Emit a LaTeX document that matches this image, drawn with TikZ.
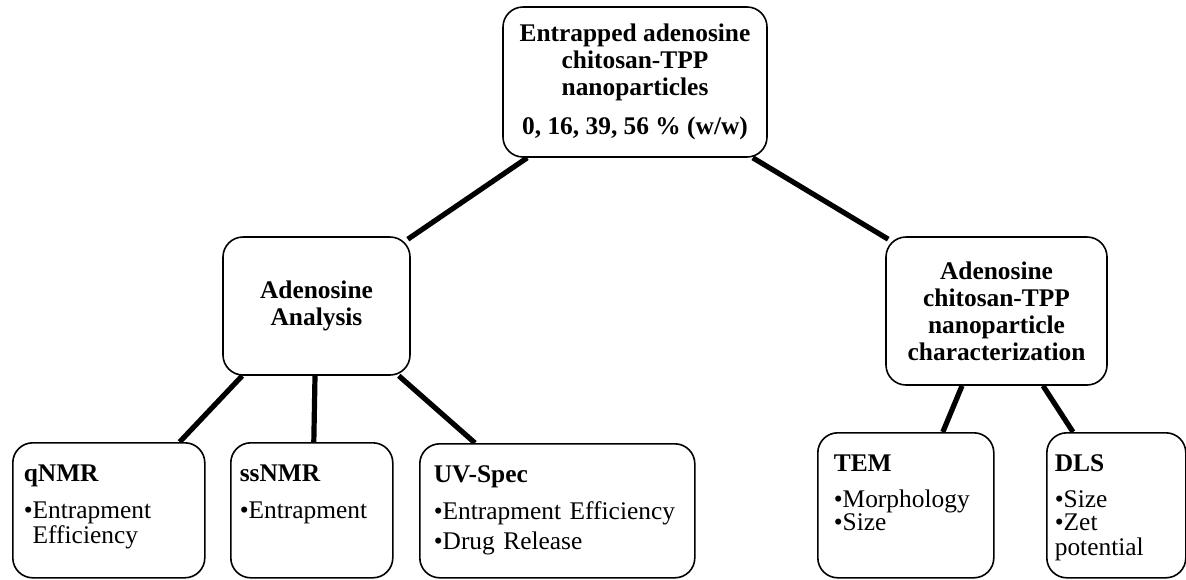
\documentclass[tikz,border=0pt]{standalone}
\usepackage{fontspec}
\setmainfont{Liberation Serif}
\usepackage{tikz}
\usetikzlibrary{backgrounds}

\begin{document}
\begin{tikzpicture}[x=0.5pt,y=-0.5pt,
  hub/.style={draw,line width=0.8pt,rounded corners=10pt,fill=white,align=center,
    font=\fontsize{12.7}{13.5}\selectfont\bfseries},
  leaf/.style={draw,line width=0.8pt,rounded corners=10pt,fill=white,anchor=north west,
    align=left,inner ysep=0pt,text height=19.5pt,font=\fontsize{12.7}{12.5}\selectfont},
  link/.style={line width=2.6pt}]
\useasboundingbox (0,0) rectangle (1186,579);
% top and middle boxes
\node[hub,minimum width=132pt,minimum height=75pt] (top) at (635,82)
  {Entrapped adenosine\\chitosan-TPP\\nanoparticles\\[6pt]0, 16, 39, 56 \% (w/w)};
\node[hub,minimum width=93.5pt,minimum height=69pt] (ana) at (316.5,306) {Adenosine\\Analysis};
\node[hub,minimum width=110.5pt,minimum height=74pt] (char) at (996.5,311)
  {Adenosine\\chitosan-TPP\\nanoparticle\\characterization};
% bottom boxes
\node[leaf,text width=85pt,inner xsep=5.5pt,text depth=48pt] (qnmr) at (12,442)
  {\textbf{qNMR}\\[6pt]\textbullet Entrapment\\\phantom{\textbullet}Efficiency};
\node[leaf,text width=72pt,inner xsep=4.5pt,text depth=48pt] (ssnmr) at (230,442)
  {\textbf{ssNMR}\\[6pt]\textbullet Entrapment};
\node[leaf,text width=123.5pt,inner xsep=7pt,text depth=47.5pt] (uvspec) at (419,443)
  {\textbf{UV-Spec}\\[6pt]\textbullet Entrapment Efficiency\\[2.5pt]\textbullet Drug Release};
\node[leaf,text width=72pt,inner xsep=8pt,text depth=53pt] (tem) at (817,432)
  {\textbf{TEM}\\[5.5pt]\textbullet Morphology\\[-1pt]\textbullet Size};
\node[leaf,text width=61.5pt,inner xsep=4pt,text depth=53pt] (dls) at (1046,432)
  {\textbf{DLS}\\[5.5pt]\textbullet Size\\[-1pt]\textbullet Zet\\potential};
% connectors
\begin{scope}[on background layer]
\draw[link] ([xshift=12.5pt]top.south west) -- ([xshift=-1.5pt,yshift=-1.5pt]ana.north east);
\draw[link] ([xshift=-7.5pt]top.south east) -- ([xshift=1.5pt,yshift=-1.5pt]char.north west);
\draw[link] ([xshift=10pt]ana.south west) -- ([xshift=-13pt]qnmr.north east);
\draw[link] ([xshift=-0.75pt]ana.south) -- ([xshift=1pt]ssnmr.north);
\draw[link] ([xshift=-6pt]ana.south east) -- ([xshift=28pt]uvspec.north west);
\draw[link] ([xshift=-17.25pt]char.south) -- ([xshift=18.5pt]tem.north);
\draw[link] ([xshift=23.25pt]char.south) -- ([xshift=13.5pt]dls.north west);
\end{scope}
\end{tikzpicture}
\end{document}
